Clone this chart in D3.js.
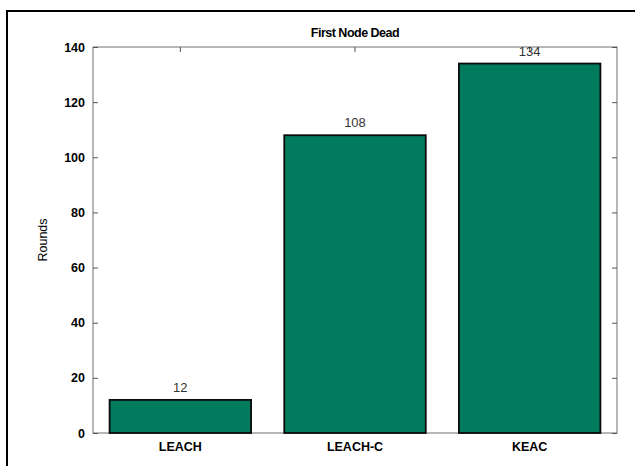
<!DOCTYPE html>
<html><head><meta charset="utf-8">
<script src="https://cdn.jsdelivr.net/npm/d3@7"></script>
<style>body{margin:0;background:#fff}svg{display:block}</style>
</head><body>
<script>
const categories = ["LEACH", "LEACH-C", "KEAC"];
const values = [12, 108, 134];
const yTicks = [0, 20, 40, 60, 80, 100, 120, 140];
const title = "First Node Dead";
const yLabel = "Rounds";

const W = 635, H = 466;
const m = {left: 93, right: 18, top: 47, bottom: 33};
const svg = d3.select("body").append("svg").attr("width", W).attr("height", H);
svg.append("rect").attr("x", 0).attr("y", 0).attr("width", W).attr("height", H).attr("fill", "#fff");
// outer frame
svg.append("path").attr("d", `M7,${H} V11 H${W}`).attr("fill", "none").attr("stroke", "#000").attr("stroke-width", 2);

const x = d3.scaleBand().domain(categories).range([m.left, W - m.right]).paddingInner(0.19).paddingOuter(0.095);
const y = d3.scaleLinear().domain([0, 140]).range([H - m.bottom, m.top]);
const x0 = m.left, x1 = W - m.right, y0 = H - m.bottom, y1 = m.top;

const font = "'Liberation Sans', Arial, sans-serif";

// plot frame
svg.append("rect").attr("x", x0).attr("y", y1).attr("width", x1 - x0).attr("height", y0 - y1)
  .attr("fill", "none").attr("stroke", "#888").attr("stroke-width", 1.2);

// y axis left
const yl = svg.append("g").attr("transform", `translate(${x0},0)`)
  .call(d3.axisLeft(y).tickValues(yTicks).tickSize(-5).tickPadding(8));
yl.select(".domain").remove();
yl.selectAll("line").attr("stroke", "#555");
yl.selectAll("text").attr("font-family", font).attr("font-weight", "bold").attr("font-size", 12.5).attr("fill", "#000");
// right ticks
const yr = svg.append("g").attr("transform", `translate(${x1},0)`)
  .call(d3.axisRight(y).tickValues(yTicks).tickSize(-5).tickFormat(""));
yr.select(".domain").remove();
yr.selectAll("line").attr("stroke", "#555");
// top ticks
const xt = svg.append("g").attr("transform", `translate(0,${y1})`)
  .call(d3.axisTop(x).tickSize(-5).tickFormat(""));
xt.select(".domain").remove();
xt.selectAll("line").attr("stroke", "#555");

// bars
svg.selectAll("rect.bar").data(values).enter().append("rect").attr("class", "bar")
  .attr("x", (d, i) => x(categories[i]))
  .attr("y", d => y(d))
  .attr("width", x.bandwidth())
  .attr("height", d => y(0) - y(d))
  .attr("fill", "#017B5E").attr("stroke", "#0a0a0a").attr("stroke-width", 1.8);

// value labels
svg.selectAll("text.val").data(values).enter().append("text").attr("class", "val")
  .attr("x", (d, i) => x(categories[i]) + x.bandwidth() / 2)
  .attr("y", d => y(d) - 8)
  .attr("text-anchor", "middle").attr("font-family", font).attr("font-size", 13).attr("fill", "#333")
  .text(d => d);

// bottom axis
const xb = svg.append("g").attr("transform", `translate(0,${y0})`)
  .call(d3.axisBottom(x).tickSize(0).tickPadding(9));
xb.select(".domain").remove();
xb.selectAll("text").attr("font-family", font).attr("font-weight", "bold").attr("font-size", 12.5).attr("fill", "#000");

// title
svg.append("text").attr("x", (x0 + x1) / 2).attr("y", 37).attr("text-anchor", "middle")
  .attr("font-family", font).attr("font-weight", "bold").attr("font-size", 12.5).attr("letter-spacing", -0.5).text(title);
// y label
svg.append("text").attr("transform", `translate(47,${(y0 + y1) / 2}) rotate(-90)`).attr("text-anchor", "middle")
  .attr("font-family", font).attr("font-size", 12.5).attr("fill", "#000").text(yLabel);
</script>
</body></html>
